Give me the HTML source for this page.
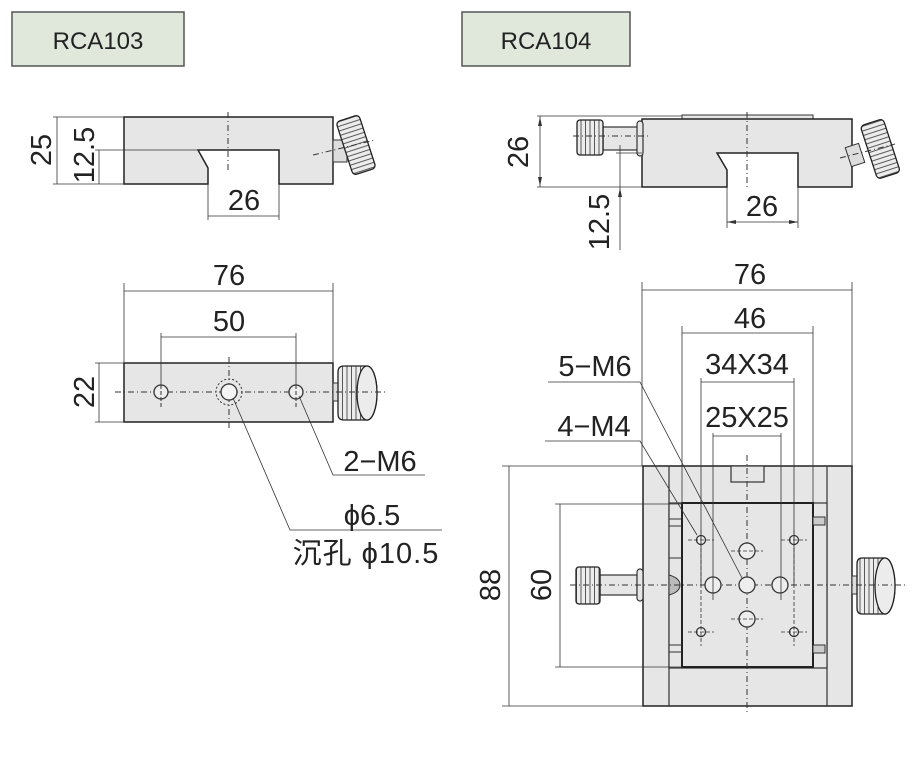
<!DOCTYPE html>
<html><head><meta charset="utf-8"><style>
html,body{margin:0;padding:0;background:#fff;width:918px;height:771px;overflow:hidden}
svg{display:block}
text{font-family:"Liberation Sans","Noto Sans CJK SC",sans-serif;fill:#222}
</style></head><body>
<svg width="918" height="771" viewBox="0 0 918 771" xmlns="http://www.w3.org/2000/svg">
<defs>
<pattern id="kn" width="4" height="4.5" patternUnits="userSpaceOnUse"><rect width="4" height="4.5" fill="#ececec"/><line x1="0" y1="0.5" x2="4" y2="0.5" stroke="#333" stroke-width="0.8"/></pattern>
<pattern id="kv" width="4.5" height="4" patternUnits="userSpaceOnUse"><rect width="4.5" height="4" fill="#ececec"/><line x1="0.5" y1="0" x2="0.5" y2="4" stroke="#333" stroke-width="0.8"/></pattern>
</defs>
<g stroke="#333" fill="none" stroke-width="1">
<rect x="12" y="12" width="172" height="54" fill="#e0e8dc" stroke="#555" stroke-width="1.5"/>
<rect x="462" y="12" width="168" height="54" fill="#e0e8dc" stroke="#555" stroke-width="1.5"/>

<path d="M124 117 H333 V184 H279 V150 H198 L208 168 V184 H124 Z" fill="#e6e6e6" stroke="#222" stroke-width="1.5"/>
<rect x="333" y="140" width="14" height="22" fill="#ddd"/>
<g transform="rotate(-18 356 145)"><rect x="344" y="117" width="24" height="56" rx="4" fill="url(#kn)" stroke="#222" stroke-width="1.3"/></g>
<line x1="228" y1="112" x2="228" y2="172" stroke-dasharray="6,3,1,3"/>
<line x1="313" y1="155" x2="375" y2="140" stroke-dasharray="6,3,1,3"/>
<line x1="53" y1="117" x2="124" y2="117" stroke-width="0.8"/>
<line x1="53" y1="184" x2="124" y2="184" stroke-width="0.8"/>
<line x1="57" y1="117" x2="57" y2="184" stroke-width="0.8"/>
<line x1="95" y1="150" x2="198" y2="150" stroke-width="0.8"/>
<line x1="99" y1="150" x2="99" y2="184" stroke-width="0.8"/>
<line x1="208" y1="184" x2="208" y2="220" stroke-width="0.8"/>
<line x1="279" y1="184" x2="279" y2="220" stroke-width="0.8"/>
<line x1="208" y1="216" x2="279" y2="216" stroke-width="0.8"/>

<rect x="124" y="363" width="209" height="59" fill="#e6e6e6" stroke="#222" stroke-width="1.5"/>
<rect x="333" y="383" width="6" height="18" fill="#ddd"/>
<path d="M344 366 H367 A10 27 0 0 1 367 420 H344 Q338 420 338 414 V372 Q338 366 344 366 Z" fill="url(#kv)" stroke="#222" stroke-width="1.3"/>
<ellipse cx="367" cy="393" rx="10" ry="27" fill="#ececec" stroke="#222" stroke-width="1.3"/>
<line x1="115" y1="392" x2="385" y2="392" stroke-dasharray="6,3,1,3"/>
<line x1="229" y1="357" x2="229" y2="428" stroke-dasharray="6,3,1,3"/>
<circle cx="161" cy="392" r="7" fill="#eee" stroke-width="1.3"/>
<circle cx="229" cy="392" r="8" fill="#f4f4f4" stroke-width="1.3"/>
<circle cx="229" cy="392" r="13" stroke-dasharray="2,2"/>
<circle cx="296" cy="392" r="7" fill="#eee" stroke-width="1.3"/>
<line x1="161" y1="385" x2="161" y2="408" stroke-dasharray="4,2"/>
<line x1="296" y1="385" x2="296" y2="408" stroke-dasharray="4,2"/>
<line x1="124" y1="283" x2="124" y2="363" stroke-width="0.8"/>
<line x1="333" y1="283" x2="333" y2="363" stroke-width="0.8"/>
<line x1="124" y1="291" x2="333" y2="291" stroke-width="0.8"/>
<line x1="161" y1="333" x2="161" y2="385" stroke-width="0.8"/>
<line x1="296" y1="333" x2="296" y2="385" stroke-width="0.8"/>
<line x1="161" y1="337" x2="296" y2="337" stroke-width="0.8"/>
<line x1="95" y1="363" x2="124" y2="363" stroke-width="0.8"/>
<line x1="95" y1="422" x2="124" y2="422" stroke-width="0.8"/>
<line x1="99" y1="363" x2="99" y2="422" stroke-width="0.8"/>
<polyline points="299,396 333,475 425,475" stroke-width="0.8"/>
<polyline points="233,398 290,530 442,530" stroke-width="0.8"/>

<rect x="682" y="115" width="131" height="4" fill="#e6e6e6"/>
<path d="M642 119 H852 V187 H798 V153 H717 L727 170 V187 H642 Z" fill="#e6e6e6" stroke="#222" stroke-width="1.5"/>
<rect x="603" y="127" width="35" height="23" fill="#e6e6e6" stroke-width="1.2"/>
<rect x="637" y="121" width="6" height="35" rx="3" fill="#e6e6e6" stroke-width="1.2"/>
<rect x="577" y="120" width="26" height="35" rx="3" fill="url(#kv)" stroke="#222" stroke-width="1.3"/>
<rect x="848" y="145" width="14" height="20" fill="#ddd" transform="rotate(-18 855 155)"/>
<g transform="rotate(-18 880 148)"><rect x="868" y="121" width="24" height="56" rx="4" fill="url(#kn)" stroke="#222" stroke-width="1.3"/></g>
<line x1="747" y1="112" x2="747" y2="190" stroke-dasharray="6,3,1,3"/>
<line x1="573" y1="136" x2="650" y2="136" stroke-dasharray="6,3,1,3"/>
<line x1="840" y1="158" x2="895" y2="144" stroke-dasharray="6,3,1,3"/>
<line x1="537" y1="116" x2="682" y2="116" stroke-width="0.8"/>
<line x1="537" y1="187" x2="642" y2="187" stroke-width="0.8"/>
<line x1="540" y1="116" x2="540" y2="187" stroke-width="0.8"/>
<line x1="616" y1="153" x2="642" y2="153" stroke-width="0.8"/>
<line x1="620" y1="145" x2="620" y2="250" stroke-width="0.8"/>
<line x1="727" y1="187" x2="727" y2="228" stroke-width="0.8"/>
<line x1="798" y1="187" x2="798" y2="228" stroke-width="0.8"/>
<line x1="727" y1="222" x2="798" y2="222" stroke-width="0.8"/>
<path d="M540 117 l-2 9 h4 z M540 186 l-2 -9 h4 z M727 222 l9 -2 v4 z M798 222 l-9 -2 v4 z M620 188 l-2 9 h4 z" fill="#333" stroke="none"/>

<rect x="643" y="466" width="209" height="240" fill="#e6e6e6" stroke="#222" stroke-width="1.5"/>
<line x1="669" y1="466" x2="669" y2="706" stroke-width="1.2"/>
<line x1="827" y1="466" x2="827" y2="706" stroke-width="1.2"/>
<rect x="669" y="503" width="158" height="165" fill="#e6e6e6" stroke-width="1.2"/>
<rect x="682" y="503" width="131" height="164" fill="#e6e6e6" stroke="#222" stroke-width="2"/>
<rect x="731" y="466" width="33" height="16" fill="#e6e6e6" stroke-width="1.2"/>
<line x1="669" y1="519" x2="682" y2="519"/><line x1="669" y1="526" x2="682" y2="526"/>
<line x1="669" y1="645" x2="682" y2="645"/><line x1="669" y1="652" x2="682" y2="652"/>
<line x1="669" y1="558" x2="682" y2="558"/>
<rect x="813" y="517" width="12" height="8" fill="#ccc"/><rect x="813" y="645" width="12" height="8" fill="#ccc"/>
<path d="M669 575 Q680 578 680 585 Q680 592 669 595 Z" fill="#bbb"/>
<rect x="600" y="575" width="37" height="20" fill="#e6e6e6" stroke-width="1.2"/>
<rect x="637" y="569" width="6" height="32" rx="3" fill="#e6e6e6" stroke-width="1.2"/>
<rect x="576" y="567" width="24" height="37" rx="3" fill="url(#kv)" stroke="#222" stroke-width="1.3"/>
<rect x="852" y="576" width="6" height="18" fill="#ddd"/>
<path d="M862 558 H885 A10 28 0 0 1 885 614 H862 Q857 614 857 608 V564 Q857 558 862 558 Z" fill="url(#kv)" stroke="#222" stroke-width="1.3"/>
<ellipse cx="885" cy="586" rx="10" ry="28" fill="#ececec" stroke="#222" stroke-width="1.3"/>
<line x1="570" y1="585" x2="905" y2="585" stroke-dasharray="6,3,1,3"/>
<line x1="747" y1="455" x2="747" y2="715" stroke-dasharray="6,3,1,3"/>
<g fill="#eee" stroke-width="1.3">
<circle cx="701" cy="540" r="4.5"/><circle cx="794" cy="540" r="4.5"/>
<circle cx="701" cy="632" r="4.5"/><circle cx="794" cy="632" r="4.5"/>
<circle cx="747" cy="551" r="8"/><circle cx="713" cy="585" r="8"/><circle cx="747" cy="585" r="8"/><circle cx="780" cy="585" r="8"/><circle cx="747" cy="619" r="8"/>
</g>
<g stroke-dasharray="4,2" stroke-width="0.8">
<line x1="688" y1="540" x2="714" y2="540"/><line x1="781" y1="540" x2="807" y2="540"/>
<line x1="688" y1="632" x2="714" y2="632"/><line x1="781" y1="632" x2="807" y2="632"/>
<line x1="701" y1="530" x2="701" y2="646"/><line x1="794" y1="530" x2="794" y2="646"/>
<line x1="731" y1="551" x2="763" y2="551"/><line x1="731" y1="619" x2="763" y2="619"/>
</g>
<line x1="642" y1="282" x2="642" y2="466" stroke-width="0.8"/>
<line x1="852" y1="282" x2="852" y2="466" stroke-width="0.8"/>
<line x1="642" y1="290" x2="852" y2="290" stroke-width="0.8"/>
<line x1="682" y1="326" x2="682" y2="503" stroke-width="0.8"/>
<line x1="813" y1="326" x2="813" y2="503" stroke-width="0.8"/>
<line x1="682" y1="333" x2="813" y2="333" stroke-width="0.8"/>
<line x1="701" y1="378" x2="701" y2="585" stroke-width="0.8"/>
<line x1="794" y1="378" x2="794" y2="585" stroke-width="0.8"/>
<line x1="701" y1="382" x2="794" y2="382" stroke-width="0.8"/>
<line x1="713" y1="433" x2="713" y2="600" stroke-width="0.8"/>
<line x1="781" y1="433" x2="781" y2="600" stroke-width="0.8"/>
<line x1="713" y1="436" x2="781" y2="436" stroke-width="0.8"/>
<polyline points="548,382 640,382 742,578" stroke-width="0.8"/>
<polyline points="545,441 640,441 697,535" stroke-width="0.8"/>
<line x1="502" y1="466" x2="643" y2="466" stroke-width="0.8"/>
<line x1="502" y1="706" x2="643" y2="706" stroke-width="0.8"/>
<line x1="509" y1="466" x2="509" y2="706" stroke-width="0.8"/>
<line x1="555" y1="504" x2="682" y2="504" stroke-width="0.8"/>
<line x1="555" y1="667" x2="682" y2="667" stroke-width="0.8"/>
<line x1="560" y1="504" x2="560" y2="667" stroke-width="0.8"/>
</g>

<g font-size="29">
<text x="98" y="49" text-anchor="middle" font-size="24">RCA103</text>
<text x="546" y="49" text-anchor="middle" font-size="24">RCA104</text>
<text transform="translate(51 150) rotate(-90)" text-anchor="middle">25</text>
<text transform="translate(94 155) rotate(-90)" text-anchor="middle">12.5</text>
<text x="244" y="210" text-anchor="middle">26</text>
<text x="229" y="285" text-anchor="middle">76</text>
<text x="229" y="331" text-anchor="middle">50</text>
<text transform="translate(94 392) rotate(-90)" text-anchor="middle">22</text>
<text x="380" y="471" text-anchor="middle">2−M6</text>
<text x="372" y="525" text-anchor="middle">ϕ6.5</text>
<text x="366" y="563" text-anchor="middle" letter-spacing="1">沉孔 ϕ10.5</text>
<text transform="translate(528 152) rotate(-90)" text-anchor="middle">26</text>
<text transform="translate(609 222) rotate(-90)" text-anchor="middle">12.5</text>
<text x="762" y="216" text-anchor="middle">26</text>
<text x="750" y="284" text-anchor="middle">76</text>
<text x="750" y="328" text-anchor="middle">46</text>
<text x="747" y="374" text-anchor="middle">34X34</text>
<text x="747" y="427" text-anchor="middle">25X25</text>
<text x="595" y="376" text-anchor="middle">5−M6</text>
<text x="594" y="436" text-anchor="middle">4−M4</text>
<text transform="translate(500 585) rotate(-90)" text-anchor="middle">88</text>
<text transform="translate(551 585) rotate(-90)" text-anchor="middle">60</text>
</g>
</svg>
</body></html>
